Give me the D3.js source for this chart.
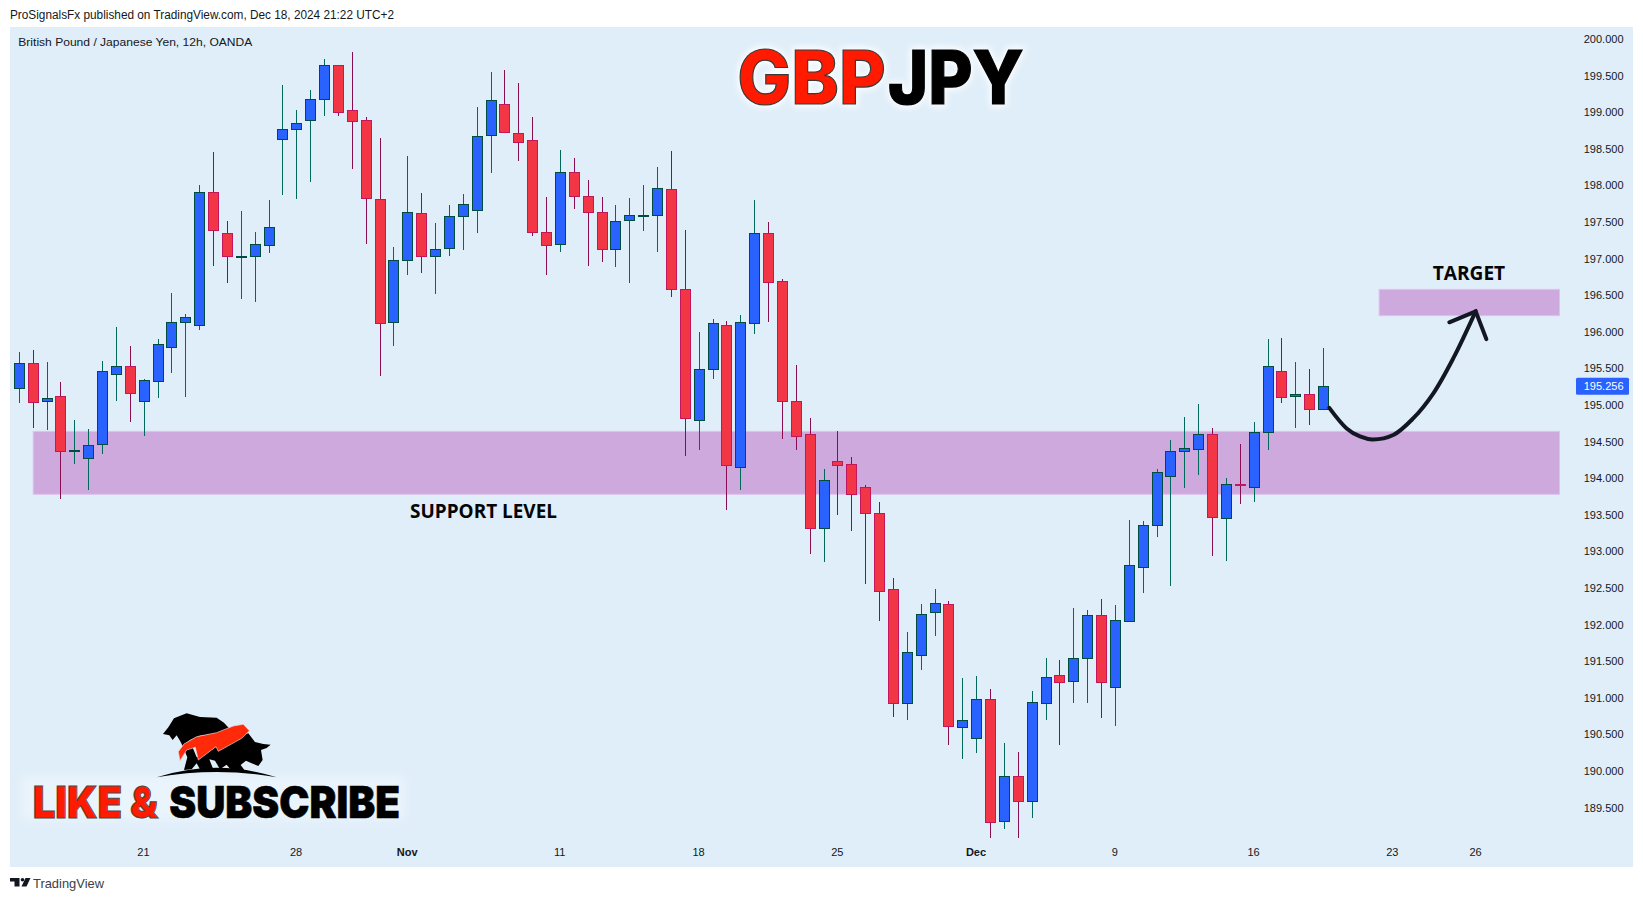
<!DOCTYPE html>
<html>
<head>
<meta charset="utf-8">
<script src="https://cdnjs.cloudflare.com/ajax/libs/d3/7.8.5/d3.min.js"></script>
<style>
html,body{margin:0;padding:0;background:#fff;overflow:hidden}
svg{display:block}
</style>
</head>
<body>
<svg id="c" width="1643" height="901"></svg>
<script>
const opens=[195.24,195.58,195.05,195.12,194.37,194.28,194.46,195.42,195.53,195.05,195.34,195.79,196.13,196.09,197.91,197.35,197.03,197.03,197.18,198.63,198.77,198.89,199.18,199.64,199.03,198.89,197.82,196.13,
196.98,197.62,197.03,197.14,197.58,197.67,198.68,199.11,198.71,198.62,197.37,197.19,198.18,197.85,197.63,197.14,197.52,197.59,197.59,197.95,196.58,194.79,195.49,196.09,194.16,196.12,197.35,196.69,195.05,
194.60,193.31,194.23,194.19,193.88,193.52,192.48,190.92,191.59,192.17,192.28,190.60,190.46,190.99,189.31,189.93,189.59,190.94,191.31,191.22,191.54,192.13,191.14,192.06,192.78,193.36,194.03,194.37,194.41,194.61,193.45,193.92,193.88,194.63,195.47,195.12,195.15,194.94];
const highs=[195.72,195.75,195.59,195.31,194.80,194.67,195.60,196.07,195.81,195.35,195.90,196.53,196.24,198.01,198.46,197.51,197.65,197.36,197.80,199.37,199.03,199.30,199.73,199.64,199.82,198.93,198.65,197.16,
198.40,197.90,197.49,197.73,197.88,199.07,199.55,199.58,199.40,198.93,197.84,198.48,198.37,198.07,197.84,197.73,197.83,198.01,198.25,198.47,197.39,196.00,196.18,196.15,196.23,197.80,197.50,196.72,195.55,
194.82,194.13,194.64,194.29,193.91,193.67,192.64,191.90,192.28,192.49,192.32,191.27,191.30,191.12,190.38,190.26,191.09,191.54,191.52,192.23,192.20,192.35,192.27,193.43,193.42,194.13,194.52,194.84,195.01,194.69,194.00,194.47,194.77,195.90,195.92,195.59,195.49,195.78];
const lows=[195.03,194.68,194.66,193.72,194.20,193.84,194.33,195.05,194.77,194.58,195.10,195.44,195.11,196.03,196.90,196.66,196.45,196.41,197.07,197.87,197.82,198.05,198.95,198.95,198.23,197.20,195.39,195.80,
196.77,196.81,196.52,197.03,197.12,197.35,198.17,198.73,198.34,197.31,196.77,197.09,197.68,196.90,196.96,196.88,196.67,197.38,197.09,196.48,194.31,194.38,195.35,193.57,193.84,195.97,196.14,194.54,194.39,
192.97,192.86,193.50,193.28,192.55,192.05,190.74,190.69,191.38,191.84,190.35,190.17,190.25,189.09,189.21,189.09,189.36,190.70,190.35,190.93,190.93,190.73,190.62,192.05,192.43,193.20,192.53,193.87,194.04,192.94,192.87,193.65,193.67,194.39,195.03,194.68,194.72,194.93];
const closes=[195.58,195.05,195.09,194.37,194.38,194.46,195.46,195.53,195.16,195.34,195.84,196.13,196.20,197.91,197.39,197.03,197.04,197.20,197.43,198.77,198.85,199.18,199.65,199.00,198.88,197.82,196.13,196.98,
197.63,197.03,197.13,197.58,197.74,198.68,199.16,198.73,198.59,197.37,197.19,198.18,197.85,197.63,197.13,197.52,197.59,197.60,197.96,196.58,194.82,195.49,196.12,194.18,196.14,197.35,196.68,195.05,194.57,
193.31,193.97,194.18,193.78,193.52,192.45,190.92,191.62,192.15,192.29,190.61,190.69,190.99,189.31,189.93,189.59,190.94,191.29,191.22,191.54,192.13,191.21,192.06,192.82,193.36,194.09,194.37,194.41,194.61,193.47,193.92,193.91,194.63,195.53,195.12,195.15,194.94,195.256];

const priceTicks=[200,199.5,199,198.5,198,197.5,197,196.5,196,195.5,195,194.5,194,193.5,193,192.5,192,191.5,191,190.5,190,189.5];
const timeTickIndex=[9,20,28,39,49,59,69,79,89,99,105];
const timeTickLabels=["21","28","Nov","11","18","25","Dec","9","16","23","26"];
const boldTimeLabels=["Nov","Dec"];

const supportZone={from:1,to:111,top:194.64,bottom:193.78};
const targetZone={from:98,to:111,top:196.58,bottom:196.22};
const lastPrice=195.256;

const curveIndex=[94.41,95.66,96.62,97.51,99.02,100.47,101.91,103.35,104.96];
const curvePrice=[194.96,194.68,194.57,194.53,194.59,194.82,195.16,195.64,196.28];
const headIndex=[103.06,104.96,105.73];
const headPrice=[196.13,196.28,195.90];

const svg=d3.select("#c");
const x=d3.scaleLinear().domain([0,94]).range([19.3,1323.6]);
const y=d3.scaleLinear().domain([200,189.5]).range([39,807.6]);

const defs=svg.append("defs");
defs.append("filter").attr("id","glow").attr("x","-20%").attr("y","-30%").attr("width","140%").attr("height","160%")
  .append("feGaussianBlur").attr("stdDeviation",3);
defs.append("filter").attr("id","soft").attr("x","-5%").attr("y","-30%").attr("width","110%").attr("height","160%")
  .append("feGaussianBlur").attr("stdDeviation",5);

// panel
svg.append("rect").attr("x",10).attr("y",27).attr("width",1623).attr("height",840).attr("fill","#e0eef9");

// zones
const zones=[supportZone,targetZone];
svg.append("g").selectAll("rect").data(zones).join("rect")
  .attr("x",d=>x(d.from)).attr("y",d=>y(d.top))
  .attr("width",d=>x(d.to)-x(d.from)).attr("height",d=>y(d.bottom)-y(d.top))
  .attr("fill","#cda9de").attr("stroke","#dcc4ee").attr("stroke-width",1);

// candles
const candles=opens.map((o,i)=>({i,o,h:highs[i],l:lows[i],c:closes[i]}));
const isUp=d=>d.c>=d.o;
const g=svg.append("g").attr("shape-rendering","crispEdges");
const px=d=>Math.floor(x(d.i))+0.5;
g.selectAll("line.w").data(candles).join("line").attr("class","w")
  .attr("x1",px).attr("x2",px)
  .attr("y1",d=>y(d.h)).attr("y2",d=>y(d.l))
  .attr("stroke",d=>isUp(d)?"#00695c":"#880e4f").attr("stroke-width",1);
g.selectAll("rect.b").data(candles).join("rect").attr("class","b")
  .attr("x",d=>px(d)-5).attr("width",10)
  .attr("y",d=>Math.round(y(Math.max(d.o,d.c)))+0.5)
  .attr("height",d=>Math.max(0.5,Math.round(Math.abs(y(d.o)-y(d.c)))))
  .attr("fill",d=>isUp(d)?"#2962ff":"#f23645")
  .attr("stroke",d=>isUp(d)?"#004d40":"#c2185b").attr("stroke-width",1);

// axes
const yAxis=d3.axisRight(y).tickValues(priceTicks).tickSize(0).tickFormat(d3.format(".3f"));
const ya=svg.append("g").attr("transform","translate(1623.5,0)").call(yAxis);
ya.select(".domain").remove();
ya.selectAll("text").attr("x",0).attr("text-anchor","end")
  .attr("font-family","Liberation Sans").attr("font-size",11).attr("fill","#131722");

const xAxis=d3.axisBottom(x).tickValues(timeTickIndex).tickSize(0)
  .tickFormat((d,i)=>timeTickLabels[i]);
const xa=svg.append("g").attr("transform","translate(-1.2,848)").call(xAxis);
xa.select(".domain").remove();
xa.selectAll("text").attr("y",0).attr("dy","0.75em")
  .attr("font-family","Liberation Sans").attr("font-size",11).attr("fill","#131722")
  .attr("font-weight",(d,i)=>boldTimeLabels.includes(timeTickLabels[i])?"700":"400");

// last price label
svg.append("rect").attr("x",1576).attr("y",y(lastPrice)-8.5).attr("width",53).attr("height",17).attr("rx",1.5).attr("fill","#2962ff");
svg.append("text").attr("x",1623.5).attr("y",y(lastPrice)+4).attr("text-anchor","end")
  .attr("font-family","Liberation Sans").attr("font-size",11).attr("fill","#fff").text(d3.format(".3f")(lastPrice));

// projection arrow
const curvePts=curveIndex.map((v,i)=>[x(v),y(curvePrice[i])]);
const headPts=headIndex.map((v,i)=>[x(v),y(headPrice[i])]);
svg.append("path").attr("d",d3.line().curve(d3.curveCatmullRom)(curvePts))
  .attr("fill","none").attr("stroke","#131722").attr("stroke-width",4).attr("stroke-linecap","round");
svg.append("path").attr("d",d3.line()(headPts))
  .attr("fill","none").attr("stroke","#131722").attr("stroke-width",4).attr("stroke-linecap","round").attr("stroke-linejoin","miter");

// annotations
function t(txt,xx,yy,len,size,fill,opt={}){
  const e=svg.append("text").attr("x",xx).attr("y",yy).text(txt)
    .attr("font-family",opt.family||"Liberation Sans").attr("font-size",size).attr("fill",fill);
  if(len) e.attr("textLength",len).attr("lengthAdjust","spacingAndGlyphs");
  if(opt.weight) e.attr("font-weight",opt.weight);
  if(opt.stroke) e.attr("stroke",opt.stroke).attr("stroke-width",opt.sw||1);
  if(opt.filter) e.attr("filter",opt.filter);
  return e;
}
t("ProSignalsFx published on TradingView.com, Dec 18, 2024 21:22 UTC+2",10,19,384,12,"#131722");
t("British Pound / Japanese Yen, 12h, OANDA",18.3,46,234,11.5,"#131722");
t("SUPPORT LEVEL",410,518,147,19,"#050505",{family:"Open Sans",weight:700});
t("TARGET",1432.7,280,72.5,19,"#050505",{family:"Open Sans",weight:700});

// headline
t("GBP",737.3,103.5,148.4,74,"#fff",{family:"Inter",weight:800,stroke:"#fff",sw:5,filter:"url(#glow)"});
t("JPY",888,103.5,135.7,74,"#fff",{family:"Inter",weight:800,stroke:"#fff",sw:5,filter:"url(#glow)"});
t("GBP",737.3,103.5,148.4,74,"#ff1a00",{family:"Inter",weight:800,stroke:"#3a3a3a",sw:1.2});
t("JPY",888,103.5,135.7,74,"#000",{family:"Inter",weight:800,stroke:"#000",sw:1.2});

// like & subscribe badge
svg.append("rect").attr("x",22).attr("y",776).attr("width",382).attr("height",44).attr("fill","#eaf4fc").attr("filter","url(#soft)");
t("LIKE &",32.7,817.5,125.3,44,"#ff1a00",{family:"Inter",weight:900,stroke:"#4a4a4a",sw:1});
t("SUBSCRIBE",169.3,817.5,230.7,44,"#000",{family:"Inter",weight:900,stroke:"#000",sw:0.6});

// bear & bull logo
const logo=svg.append("g").attr("transform","translate(0,670) scale(0.3333)");
logo.append("path").attr("fill","#000").attr("d","M489 192 L505 172 L522 145 L560 130 L600 141 L650 143 L672 158 L690 178 L650 190 L600 197 L570 210 L548 228 L540 212 L530 196 L518 210 L508 196 Z");
logo.append("path").attr("fill","#000").attr("d","M548 228 L575 225 L590 262 L640 235 L700 205 L745 190 L765 216 L790 222 L812 224 L800 234 L783 240 L788 270 L775 288 L755 280 L738 272 L722 285 L735 302 L690 296 L680 284 L660 298 L645 272 L628 268 L640 298 L600 298 L590 280 L575 298 L552 300 L562 262 Z");
logo.append("path").attr("fill","#ff2a0a").attr("stroke","#f3d8d0").attr("stroke-width",2).attr("d","M540 272 L535 245 L552 222 L590 200 L650 188 L700 168 L730 163 L748 182 L725 205 L655 244 L648 230 L595 270 L586 232 L560 240 Z");
logo.append("path").attr("fill","#000").attr("d","M470 322 Q650 265 830 322 Q650 290 470 322 Z");

// footer logo
const tv=svg.append("g").attr("fill","#131722");
tv.append("path").attr("d","M10 878 H19.5 V886.5 H14.5 V881.5 H10 Z");
tv.append("circle").attr("cx",22.5).attr("cy",879.8).attr("r",1.8);
tv.append("path").attr("d","M25.5 878 H30.5 L26.5 886.5 H21.5 Z");
t("TradingView",33,888,71,13,"#3c3f46");
</script>
</body>
</html>
